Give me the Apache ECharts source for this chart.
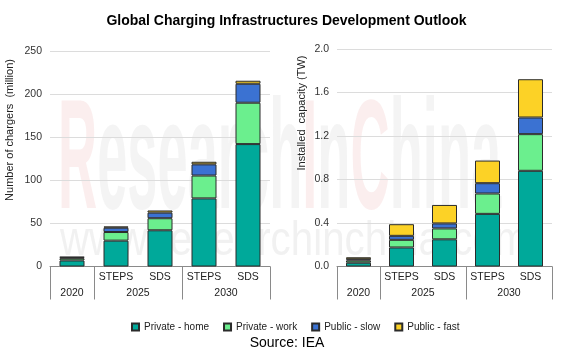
<!DOCTYPE html>
<html><head><meta charset="utf-8">
<script src="https://cdn.jsdelivr.net/npm/echarts@6/dist/echarts.min.js"></script>
<style>html,body{margin:0;padding:0;background:#fff}#c{width:573px;height:361px}</style>
</head><body><div id="c"></div>
<script>
const categories = ['2020', '2025 STEPS', '2025 SDS', '2030 STEPS', '2030 SDS'];
const scenarioLabels = ['', 'STEPS', 'SDS', 'STEPS', 'SDS'];
const yearLabels = ['2020', '2025', '2030'];
const yearLabelPos = [0.5, 2, 4];
const yearBoundaries = [0, 1, 3, 5];
const seriesNames = ['Private - home', 'Private - work', 'Public - slow', 'Public - fast'];
// Number of chargers (million)
const chargersHome = [7, 30, 42, 79, 142];
const chargersWork = [2.5, 10, 14, 26.5, 48];
const chargersSlow = [1, 5, 6.5, 13, 22];
const chargersFast = [0.7, 1.5, 2.5, 3, 3.5];
// Installed capacity (TW)
const capacityHome = [0.035, 0.175, 0.25, 0.484, 0.88];
const capacityWork = [0.02, 0.07, 0.10, 0.187, 0.337];
const capacitySlow = [0.012, 0.037, 0.046, 0.095, 0.153];
const capacityFast = [0.018, 0.107, 0.17, 0.208, 0.352];
const leftTicks = [0, 50, 100, 150, 200, 250];
const rightTicks = [0, 0.4, 0.8, 1.2, 1.6, 2.0];

const colors = ['#00a99a', '#6bef8e', '#3b72d2', '#fcd226'];
const FONT = "'Liberation Sans', Arial, sans-serif";
const axisGray = '#8a8a8a';

function catAxis(gi) {
  return {
    type: 'category', gridIndex: gi, data: categories,
    axisLine: { lineStyle: { color: axisGray, width: 1 } },
    axisTick: { show: false },
    axisLabel: { interval: 0, margin: 5, fontSize: 10.5, color: '#222', fontFamily: FONT,
      formatter: (v, i) => scenarioLabels[i] },
    splitLine: { show: false }
  };
}
function groupAxis(gi) {
  return {
    type: 'value', gridIndex: gi, min: 0, max: 5, position: 'bottom',
    axisLine: { show: false },
    axisTick: { show: true, customValues: yearBoundaries, length: 33, lineStyle: { color: axisGray } },
    axisLabel: { margin: 21, fontSize: 10.5, color: '#222', fontFamily: FONT,
      customValues: yearLabelPos,
      formatter: v => { const k = yearLabelPos.indexOf(v); return k >= 0 ? yearLabels[k] : ''; } },
    splitLine: { show: false }
  };
}
function valAxis(gi, ticks, dec) {
  const iv = ticks[1] - ticks[0];
  return {
    type: 'value', gridIndex: gi, min: ticks[0], max: ticks[ticks.length - 1], interval: iv,
    axisLine: { show: false }, axisTick: { show: false },
    axisLabel: { margin: 8, fontSize: 10.5, color: '#333', fontFamily: FONT,
      formatter: v => dec ? v.toFixed(1) : String(v) },
    splitLine: { lineStyle: { color: '#dcdcdc', width: 1 } }
  };
}
function mk(name, data, xi, yi, ci) {
  return {
    name, type: 'bar', stack: 's' + xi, xAxisIndex: xi, yAxisIndex: yi, data,
    barWidth: 25, z: 3,
    itemStyle: { color: colors[ci], borderColor: '#2b2b2b', borderWidth: 1 }
  };
}
const leftData = [chargersHome, chargersWork, chargersSlow, chargersFast];
const rightData = [capacityHome, capacityWork, capacitySlow, capacityFast];
const series = [];
seriesNames.forEach((n, i) => series.push(mk(n, leftData[i], 0, 0, i)));
seriesNames.forEach((n, i) => series.push(mk(n, rightData[i], 2, 1, i)));

const chart = echarts.init(document.getElementById('c'), null, { renderer: 'canvas' });
chart.setOption({
  animation: false,
  backgroundColor: '#fff',
  textStyle: { fontFamily: FONT },
  title: { text: 'Global Charging Infrastructures Development Outlook', left: 'center', top: 9,
    textStyle: { fontSize: 14, fontWeight: 'bold', color: '#000', fontFamily: FONT } },
  legend: { data: seriesNames, left: 126, top: 317, itemWidth: 7, itemHeight: 7, itemGap: 14,
    icon: 'rect', textStyle: { fontSize: 10, color: '#222', fontFamily: FONT } },
  grid: [
    { left: 50, right: 303, top: 51, bottom: 94.5 },
    { left: 337, right: 21, top: 49, bottom: 94.5 }
  ],
  xAxis: [catAxis(0), groupAxis(0), catAxis(1), groupAxis(1)],
  yAxis: [valAxis(0, leftTicks, false), valAxis(1, rightTicks, true)],
  graphic: [
    { type: 'text', left: 58, top: 88, z: -10, silent: true, scaleX: 0.35,
      style: { text: '{p|R}{g|esearch}{p|I}{g|n}{p|C}{g|hina}', font: 'bold 155px ' + FONT,
        rich: { p: { fill: 'rgba(232,150,150,0.16)', font: 'bold 155px ' + FONT },
                g: { fill: 'rgba(180,180,180,0.14)', font: 'bold 155px ' + FONT } } } },
    { type: 'text', left: 60, top: 218, z: -10, silent: true, scaleX: 0.84,
      style: { text: 'www.researchinchina.com', font: '48px ' + FONT, fill: 'rgba(180,180,180,0.18)' } },
    { type: 'text', x: 10, y: 130, rotation: Math.PI / 2, silent: true,
      style: { text: 'Number of chargers  (million)', font: '11px ' + FONT, fill: '#222',
        align: 'center', verticalAlign: 'middle' } },
    { type: 'text', x: 302, y: 113, rotation: Math.PI / 2, silent: true,
      style: { text: 'Installed  capacity (TW)', font: '11px ' + FONT, fill: '#222',
        align: 'center', verticalAlign: 'middle' } },
    { type: 'text', x: 287, y: 343, silent: true,
      style: { text: 'Source: IEA', font: '14px ' + FONT, fill: '#000',
        align: 'center', verticalAlign: 'middle' } }
  ],
  series
});
</script></body></html>
